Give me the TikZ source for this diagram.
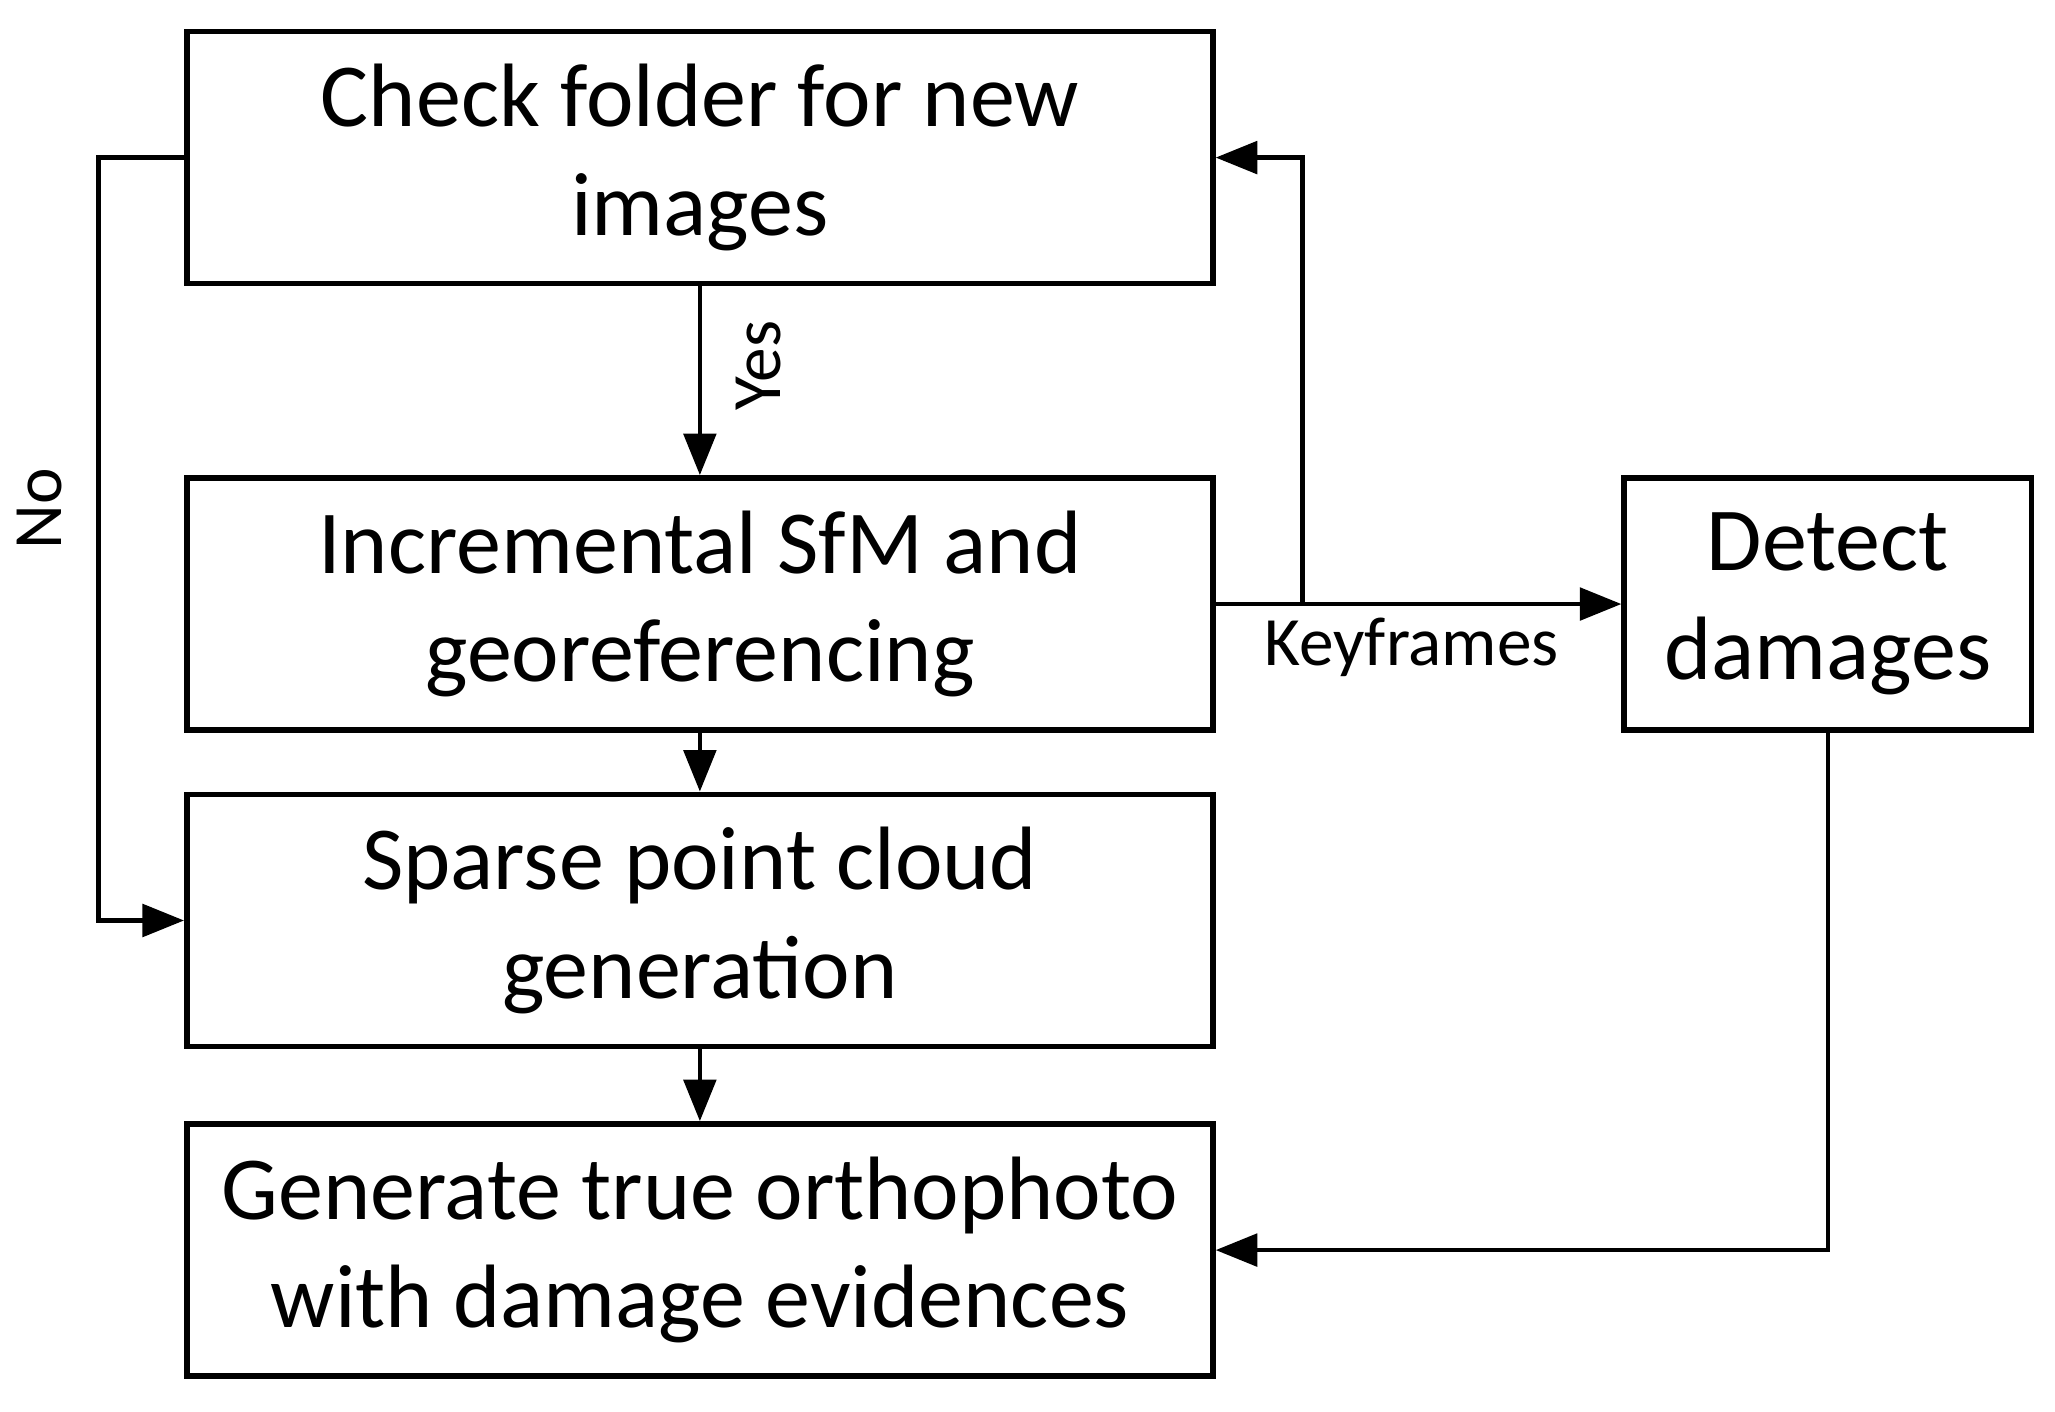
\documentclass[tikz,border=0pt]{standalone}
\usepackage{fontspec}
\setmainfont{Carlito}
\usetikzlibrary{arrows.meta}
\begin{document}
\begin{tikzpicture}[x=0.01cm,y=-0.01cm,
 box/.style={draw,line width=1.2pt,inner sep=0pt,align=center,font=\fontsize{19.5}{23.5}\selectfont},
 big/.style={box,minimum width=7.81cm,minimum height=1.92cm},
 arr/.style={-{Triangle[length=9pt,width=7pt]},line width=1pt},
 lab/.style={font=\fontsize{15}{18}\selectfont}]
\useasboundingbox (0,0) rectangle (1565,1075);
\node[big] (a) at (533,120) {Check folder for new\\images};
\node[big] (b) at (533,460) {Incremental SfM and\\georeferencing};
\node[big] (c) at (533,701) {Sparse point cloud\\generation};
\node[big] (d) at (533,952) {Generate true orthophoto\\with damage evidences};
\node[box,minimum width=3.1cm,minimum height=1.92cm] (e) at (1392,460) {Detect\\damages};
\coordinate (n1) at (75,120);
\coordinate (n2) at (75,701);
\coordinate (k1) at (992,460);
\coordinate (k2) at (992,120);
\coordinate (e1) at (1392,952);
\draw[arr] (a.west) -- (n1) -- node[lab,rotate=90,pos=0.46,above=4pt]{No} (n2) -- (c.west);
\draw[arr] (a.south) -- node[lab,rotate=90,pos=0.42,anchor=north,xshift=0pt,yshift=-4pt]{Yes} (b.north);
\draw[arr] (b.east) -- (e.west);
\node[lab] (kf) at (1075,493) {Keyframes};
\draw[arr] (k1) -- (k2) -- (a.east);
\draw[arr] (e.south) -- (e1) -- (d.east);
\draw[arr] (b.south) -- (c.north);
\draw[arr] (c.south) -- (d.north);
\end{tikzpicture}
\end{document}
